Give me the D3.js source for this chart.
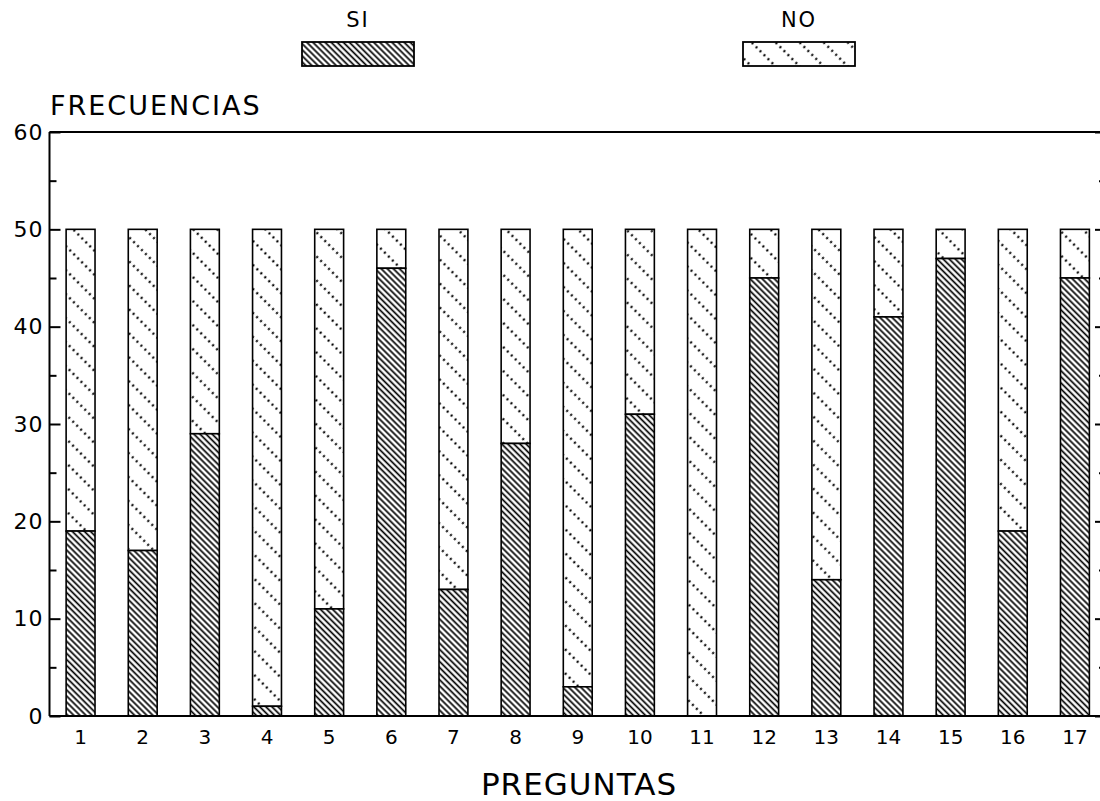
<!DOCTYPE html>
<html>
<head>
<meta charset="utf-8">
<script src="https://cdn.jsdelivr.net/npm/d3@7"></script>
<style>
  body { margin: 0; background: #fff; }
  svg { display: block; }
  text { font-family: "DejaVu Sans", sans-serif; fill: #000; }
  .domain { stroke: none; }
</style>
</head>
<body>
<div class="chart_container"></div>
<script>
var preguntas = ["1","2","3","4","5","6","7","8","9","10","11","12","13","14","15","16","17"]
var siValues = [19, 17, 29, 1, 11, 46, 13, 28, 3, 31, 0, 45, 14, 41, 47, 19, 45]
var noValues = [31, 33, 21, 49, 39, 4, 37, 22, 47, 19, 50, 5, 36, 9, 3, 31, 5]
var yTicks = [0, 10, 20, 30, 40, 50, 60]
var yMinorTicks = [5, 15, 25, 35, 45, 55]

var width = 1100
var height = 801
var plotLeft = 49.5, plotRight = 1106, plotTop = 132, plotBottom = 716

var svg = d3.select(".chart_container").append("svg")
  .attr("width", width)
  .attr("height", height)

var defs = svg.append("defs")

// SI: dense diagonal lines
var pSi = defs.append("pattern")
  .attr("id", "si")
  .attr("patternUnits", "userSpaceOnUse")
  .attr("width", 4.3).attr("height", 10)
  .attr("patternTransform", "rotate(-45)")
pSi.append("rect").attr("width", 4.3).attr("height", 10).attr("fill", "#fff")
pSi.append("line")
  .attr("x1", 2.15).attr("y1", 0).attr("x2", 2.15).attr("y2", 10)
  .attr("stroke", "#000").attr("stroke-width", 1.7)

// NO: dotted diagonal lines
var pNo = defs.append("pattern")
  .attr("id", "no")
  .attr("patternUnits", "userSpaceOnUse")
  .attr("width", 17).attr("height", 5.6)
  .attr("patternTransform", "rotate(-45)")
pNo.append("rect").attr("width", 17).attr("height", 5.6).attr("fill", "#fff")
pNo.append("circle")
  .attr("cx", 8.5).attr("cy", 2.8).attr("r", 1.25).attr("fill", "#000")

var x = d3.scaleBand()
  .domain(preguntas)
  .range([plotLeft, plotRight])
  .paddingInner(0.535)
  .paddingOuter(0.2675)

var y = d3.scaleLinear()
  .domain([0, 60])
  .range([plotBottom, plotTop])

var data = preguntas.map(function (p, i) {
  return { p: p, si: siValues[i], no: noValues[i] }
})

// bars
var bars = svg.append("g").selectAll("g")
  .data(data)
  .enter()
  .append("g")

bars.append("rect")
  .attr("x", function (d) { return x(d.p) })
  .attr("y", function (d) { return y(d.si + d.no) })
  .attr("width", x.bandwidth())
  .attr("height", function (d) { return y(d.si) - y(d.si + d.no) })
  .attr("fill", "url(#no)")
  .attr("stroke", "#000")
  .attr("stroke-width", 1.6)

bars.filter(function (d) { return d.si > 0 })
  .append("rect")
  .attr("x", function (d) { return x(d.p) })
  .attr("y", function (d) { return y(d.si) })
  .attr("width", x.bandwidth())
  .attr("height", function (d) { return y(0) - y(d.si) })
  .attr("fill", "url(#si)")
  .attr("stroke", "#000")
  .attr("stroke-width", 1.6)

// frame lines
svg.append("line")
  .attr("x1", plotLeft).attr("x2", width).attr("y1", plotTop).attr("y2", plotTop)
  .attr("stroke", "#000").attr("stroke-width", 2)
svg.append("line")
  .attr("x1", plotLeft).attr("x2", width).attr("y1", plotBottom).attr("y2", plotBottom)
  .attr("stroke", "#000").attr("stroke-width", 2)
svg.append("line")
  .attr("x1", plotLeft).attr("x2", plotLeft).attr("y1", plotTop).attr("y2", plotBottom)
  .attr("stroke", "#000").attr("stroke-width", 2)
svg.append("line")
  .attr("x1", plotRight).attr("x2", plotRight).attr("y1", plotTop).attr("y2", plotBottom)
  .attr("stroke", "#000").attr("stroke-width", 2)

// y axis left
var axisLeft = d3.axisLeft(y)
  .tickValues(yTicks)
  .tickSizeInner(-11)
  .tickSizeOuter(0)
  .tickPadding(6)

var gl = svg.append("g")
  .attr("transform", "translate(" + plotLeft + ",0)")
  .call(axisLeft)
gl.selectAll(".tick line").attr("stroke", "#000").attr("stroke-width", 2)
gl.selectAll(".tick text")
  .style("font-size", "22px")
  .style("letter-spacing", "1px")
  .style("font-family", "'DejaVu Sans', sans-serif")

var gml = svg.append("g")
  .attr("transform", "translate(" + plotLeft + ",0)")
  .call(d3.axisLeft(y).tickValues(yMinorTicks).tickSizeInner(-7).tickSizeOuter(0).tickFormat(""))
gml.selectAll(".tick line").attr("stroke", "#000").attr("stroke-width", 2)

// y axis right (ticks only)
var gr = svg.append("g")
  .attr("transform", "translate(" + plotRight + ",0)")
  .call(d3.axisRight(y).tickValues(yTicks).tickSizeInner(-11).tickSizeOuter(0).tickFormat(""))
gr.selectAll(".tick line").attr("stroke", "#000").attr("stroke-width", 2)
var gmr = svg.append("g")
  .attr("transform", "translate(" + plotRight + ",0)")
  .call(d3.axisRight(y).tickValues(yMinorTicks).tickSizeInner(-7).tickSizeOuter(0).tickFormat(""))
gmr.selectAll(".tick line").attr("stroke", "#000").attr("stroke-width", 2)

// x axis labels
var gb = svg.append("g")
  .attr("transform", "translate(0," + plotBottom + ")")
  .call(d3.axisBottom(x).tickSize(0).tickPadding(14))
gb.selectAll(".tick text")
  .style("font-size", "20px")
  .style("font-family", "'DejaVu Sans', sans-serif")

// axis titles
svg.append("text")
  .attr("x", 50)
  .attr("y", 115)
  .style("font-size", "27px")
  .style("letter-spacing", "2px")
  .text("FRECUENCIAS")

svg.append("text")
  .attr("x", 579)
  .attr("y", 795)
  .style("text-anchor", "middle")
  .style("font-size", "31px")
  .style("letter-spacing", "1px")
  .text("PREGUNTAS")

// legend
var legendNames = ["SI", "NO"]
var legendX = [302, 743]
var legendFill = ["url(#si)", "url(#no)"]

legendNames.forEach(function (name, i) {
  svg.append("text")
    .attr("x", legendX[i] + 56)
    .attr("y", 27)
    .style("text-anchor", "middle")
    .style("font-size", "21px")
    .style("letter-spacing", "2px")
    .text(name)
  svg.append("rect")
    .attr("x", legendX[i])
    .attr("y", 42)
    .attr("width", 112)
    .attr("height", 24)
    .attr("fill", legendFill[i])
    .attr("stroke", "#000")
    .attr("stroke-width", 1.8)
})
</script>
</body>
</html>
